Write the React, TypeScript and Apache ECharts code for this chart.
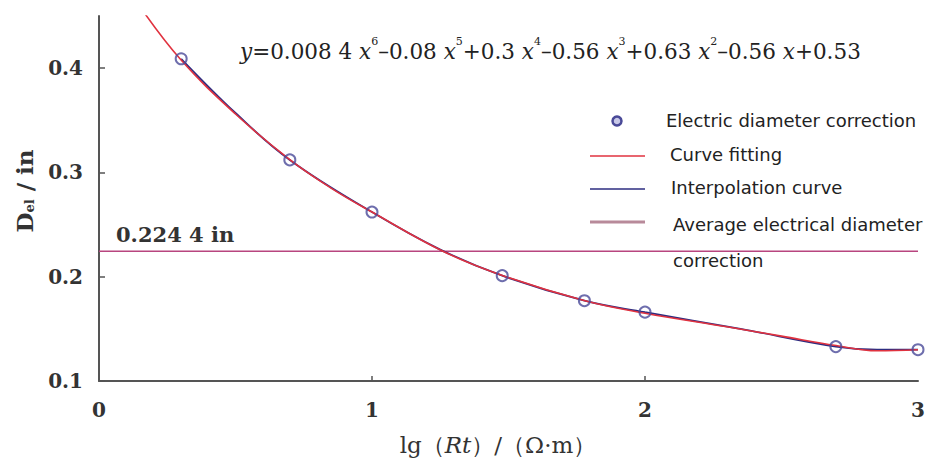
import React, { useEffect, useRef } from "react";
import * as echarts from "echarts";

// Measured electric diameter correction points (x = lg(Rt), y = Del in inches)
const measuredX = [0.301, 0.699, 1.0, 1.477, 1.778, 2.0, 2.699, 3.0];
const measuredY = [0.409, 0.312, 0.262, 0.201, 0.177, 0.166, 0.133, 0.13];

// Curve fitting (red)
const fitX = [0.15, 0.3, 0.5, 0.7, 0.85, 1.0, 1.26, 1.48, 1.78, 2.0, 2.3, 2.5, 2.7, 2.85, 3.0];
const fitY = [0.459, 0.408, 0.356, 0.312, 0.285, 0.262, 0.2244, 0.201, 0.177, 0.165, 0.152, 0.143, 0.134, 0.129, 0.13];

// Interpolation curve (navy)
const interpX = [0.301, 0.5, 0.699, 1.0, 1.25, 1.477, 1.778, 2.0, 2.35, 2.699, 2.85, 3.0];
const interpY = [0.409, 0.357, 0.312, 0.262, 0.226, 0.201, 0.177, 0.166, 0.15, 0.133, 0.13, 0.13];

// Average electrical diameter correction
const avgValue = 0.2244;
const avgX = [0, 3];

const yTicks = [0.1, 0.2, 0.3, 0.4];
const xTicks = [0, 1, 2, 3];
const xInnerTicks = [1, 2];

const equationText =
  "{v|y}{n|=0.008 4 }{v|x}{s|6}{n|–0.08 }{v|x}{s|5}{n|+0.3 }{v|x}{s|4}{n|–0.56 }{v|x}{s|3}{n|+0.63 }{v|x}{s|2}{n|–0.56 }{v|x}{n|+0.53}";

const SERIF = "'DejaVu Serif', 'Liberation Serif', serif";
const SANS = "'DejaVu Sans', 'Noto Sans', sans-serif";

export default function App() {
  const ref = useRef<HTMLDivElement>(null);

  useEffect(() => {
    if (!ref.current) return;
    const chart = echarts.init(ref.current, undefined, { renderer: "svg" });

    const zip = (xs: number[], ys: number[]) => xs.map((x, i) => [x, ys[i]]);

    const legendTextStyle = { fontFamily: SANS, fontSize: 18, fill: "#222" };

    chart.setOption({
      animation: false,
      backgroundColor: "#ffffff",
      grid: { left: 99, right: 12, top: 16, bottom: 83 },
      xAxis: {
        type: "value",
        min: 0,
        max: 3,
        axisLine: { show: true, lineStyle: { color: "#555", width: 2 } },
        axisTick: {
          show: true,
          inside: true,
          length: 5,
          lineStyle: { color: "#555", width: 1.5 },
          customValues: xInnerTicks,
        },
        splitLine: { show: false },
        axisLabel: {
          customValues: xTicks,
          margin: 19,
          fontFamily: SERIF,
          fontWeight: "bold",
          fontSize: 20,
          color: "#333",
          formatter: (v: number) => String(v),
        },
      },
      yAxis: {
        type: "value",
        min: 0.1,
        max: 0.45,
        axisLine: { show: true, lineStyle: { color: "#555", width: 2 } },
        axisTick: {
          show: true,
          inside: true,
          length: 6,
          lineStyle: { color: "#555", width: 1.5 },
          customValues: yTicks,
        },
        splitLine: { show: false },
        axisLabel: {
          customValues: yTicks,
          margin: 16,
          fontFamily: SERIF,
          fontWeight: "bold",
          fontSize: 20,
          color: "#333",
          formatter: (v: number) => v.toFixed(1),
        },
      },
      series: [
        {
          name: "Average electrical diameter correction",
          type: "line",
          data: avgX.map((x) => [x, avgValue]),
          symbol: "none",
          lineStyle: { color: "#b8457f", width: 1.5 },
          z: 2,
        },
        {
          name: "Interpolation curve",
          type: "line",
          data: zip(interpX, interpY),
          smooth: 0.4,
          symbol: "none",
          lineStyle: { color: "#2c2c80", width: 1.8 },
          z: 3,
        },
        {
          name: "Curve fitting",
          type: "line",
          data: zip(fitX, fitY),
          smooth: 0.4,
          symbol: "none",
          lineStyle: { color: "#e0323f", width: 1.6 },
          z: 4,
        },
        {
          name: "Electric diameter correction",
          type: "scatter",
          data: zip(measuredX, measuredY),
          symbol: "circle",
          symbolSize: 11,
          itemStyle: { color: "rgba(255,255,255,0)", borderColor: "#4a4a98", borderWidth: 2 },
          z: 5,
        },
      ],
      graphic: [
        // equation
        {
          type: "text",
          left: 240,
          top: 36,
          style: {
            text: equationText,
            rich: {
              n: { fontFamily: SERIF, fontSize: 21.5, fill: "#222", lineHeight: 26, verticalAlign: "bottom" },
              v: { fontFamily: SERIF, fontSize: 21.5, fontStyle: "italic", fill: "#222", lineHeight: 26, verticalAlign: "bottom" },
              s: { fontFamily: SERIF, fontSize: 11, fill: "#222", lineHeight: 26, verticalAlign: "top" },
            },
          },
        },
        // average value annotation
        {
          type: "text",
          x: 116,
          y: 234,
          style: {
            text: "0.224 4 in",
            fontFamily: SERIF,
            fontWeight: "bold",
            fontSize: 21,
            fill: "#333",
            verticalAlign: "middle",
          },
        },
        // y-axis name
        {
          type: "text",
          x: 22,
          y: 191,
          rotation: Math.PI / 2,
          style: {
            text: "{b|D}{sub|el}{b| / in}",
            align: "center",
            verticalAlign: "middle",
            rich: {
              b: { fontFamily: SERIF, fontSize: 23, fontWeight: "bold", fill: "#333", lineHeight: 28, verticalAlign: "bottom" },
              sub: { fontFamily: SERIF, fontSize: 13, fontWeight: "bold", fill: "#333", lineHeight: 24, verticalAlign: "bottom" },
            },
          },
        },
        // x-axis name
        {
          type: "text",
          x: 498,
          y: 445,
          style: {
            text: "{b|lg（}{i|Rt}{b|）/（Ω·m）}",
            align: "center",
            verticalAlign: "middle",
            rich: {
              b: { fontFamily: SERIF, fontSize: 23, fill: "#333" },
              i: { fontFamily: SERIF, fontSize: 23, fontStyle: "italic", fill: "#333" },
            },
          },
        },
        // legend
        {
          type: "circle",
          shape: { cx: 617, cy: 121, r: 4.5 },
          style: { fill: "#c8c8e8", stroke: "#4a4a98", lineWidth: 2.5 },
        },
        { type: "text", x: 666, y: 120, style: { ...legendTextStyle, text: "Electric diameter correction", verticalAlign: "middle" } },
        {
          type: "line",
          shape: { x1: 590, y1: 156, x2: 645, y2: 156 },
          style: { stroke: "#e0323f", lineWidth: 1.5 },
        },
        { type: "text", x: 670, y: 154, style: { ...legendTextStyle, text: "Curve fitting", verticalAlign: "middle" } },
        {
          type: "line",
          shape: { x1: 590, y1: 189, x2: 645, y2: 189 },
          style: { stroke: "#2c2c80", lineWidth: 1.5 },
        },
        { type: "text", x: 671, y: 187, style: { ...legendTextStyle, text: "Interpolation curve", verticalAlign: "middle" } },
        {
          type: "line",
          shape: { x1: 590, y1: 222, x2: 645, y2: 222 },
          style: { stroke: "#b88a9a", lineWidth: 3 },
        },
        { type: "text", x: 673, y: 224, style: { ...legendTextStyle, text: "Average electrical diameter", verticalAlign: "middle" } },
        { type: "text", x: 673, y: 260, style: { ...legendTextStyle, text: "correction", verticalAlign: "middle" } },
      ],
    });

    return () => chart.dispose();
  }, []);

  return (
    <div
      ref={ref}
      style={{ position: "fixed", left: 0, top: 0, width: 930, height: 464, background: "#fff" }}
    />
  );
}
